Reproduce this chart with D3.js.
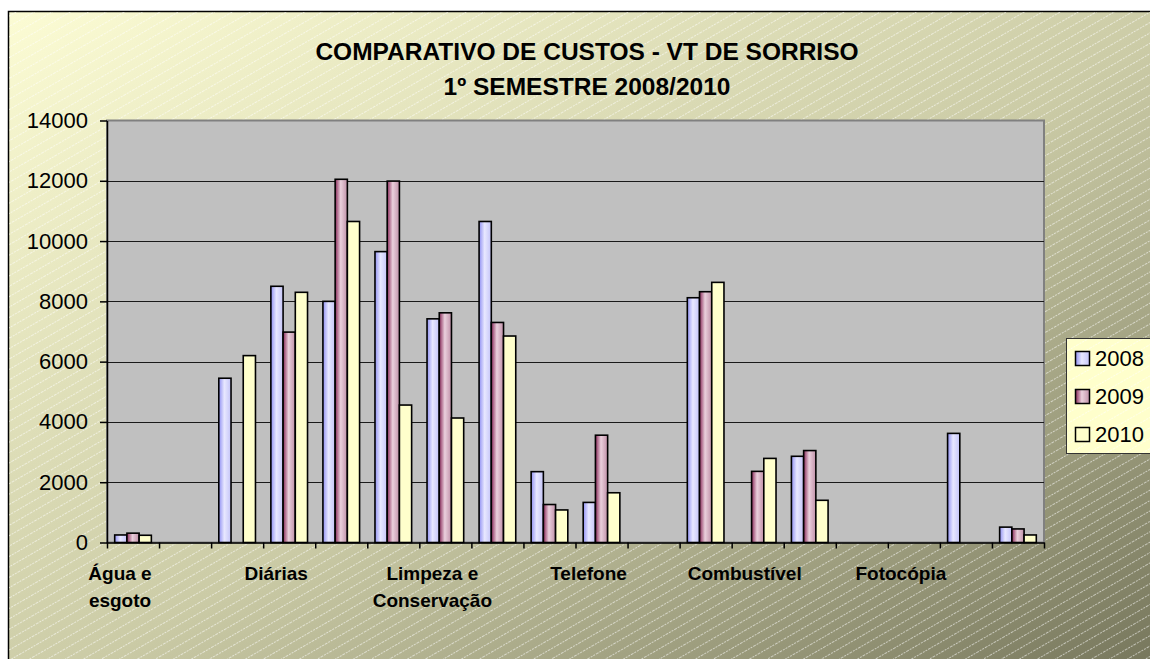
<!DOCTYPE html>
<html>
<head>
<meta charset="utf-8">
<script src="https://cdn.jsdelivr.net/npm/d3@7/dist/d3.min.js"></script>
<style>
body { margin: 0; background: #fff; }
text { font-family: "Liberation Sans", Arial, sans-serif; fill: #000; }
</style>
</head>
<body>
<div id="chart"></div>
<script>
"use strict";

// 18 categories, Excel only printed every third name
const categories = [
    "Água e\nesgoto", "", "", "Diárias", "", "", "Limpeza e\nConservação", "", "",
    "Telefone", "", "", "Combustível", "", "", "Fotocópia", "", "",
];
const years = ["2008", "2009", "2010"];
const values2008 = [250, 0, 5450, 8500, 8000, 9650, 7420, 10650, 2350, 1330, 0, 8120, 0, 2860, 0, 0, 3620, 510];
const values2009 = [310, 0, 0, 6980, 12050, 11990, 7620, 7300, 1260, 3560, 0, 8320, 2360, 3050, 0, 0, 0, 450];
const values2010 = [240, 0, 6200, 8300, 10650, 4560, 4130, 6850, 1080, 1650, 0, 8630, 2790, 1400, 0, 0, 0, 250];
const yticks = [0, 2000, 4000, 6000, 8000, 10000, 12000, 14000];
const title = ["COMPARATIVO DE CUSTOS - VT DE SORRISO", "1º SEMESTRE 2008/2010"];

const series = [values2008, values2009, values2010];

const WIDTH = 1150;
const HEIGHT = 659;
const LEFT = 107;
const RIGHT = 1044;
const TOP = 120.5;
const BOTTOM = 542.5;

let svg = d3.select("#chart").append("svg")
    .attr("width", WIDTH)
    .attr("height", HEIGHT);

let defs = svg.append("defs");

let bg = defs.append("linearGradient")
    .attr("id", "bg")
    .attr("x1", 0).attr("y1", 0).attr("x2", 1).attr("y2", 1);
bg.append("stop").attr("offset", 0).attr("stop-color", "#fcfcd4");
bg.append("stop").attr("offset", 0.5).attr("stop-color", "#cbcba6");
bg.append("stop").attr("offset", 1).attr("stop-color", "#6c6c53");

let hatch = defs.append("pattern")
    .attr("id", "hatch")
    .attr("patternUnits", "userSpaceOnUse")
    .attr("width", 10)
    .attr("height", 9)
    .attr("patternTransform", "rotate(-30)");
hatch.append("line")
    .attr("x1", 0).attr("y1", 0.5).attr("x2", 10).attr("y2", 0.5)
    .attr("stroke", "#ffffff")
    .attr("stroke-opacity", 0.6)
    .attr("stroke-width", 0.9)
    .attr("stroke-dasharray", "2,1");

// bar shading: dark edge on the left, light stripe, mid tone on the right
const shades = {
    "2008": ["#9090f2", "#e8e8ff", "#c4c4f8"],
    "2009": ["#882858", "#ead0dc", "#c090a8"],
    "2010": ["#ffffcc", "#ffffcc", "#ffffcc"],
};
years.forEach(y => {
    let g = defs.append("linearGradient")
        .attr("id", `bar${y}`)
        .attr("x1", 0).attr("y1", 0).attr("x2", 1).attr("y2", 0);
    g.append("stop").attr("offset", 0).attr("stop-color", shades[y][0]);
    g.append("stop").attr("offset", 0.45).attr("stop-color", shades[y][1]);
    g.append("stop").attr("offset", 1).attr("stop-color", shades[y][2]);
});

// chart area
svg.append("rect")
    .attr("x", 8.5).attr("y", 11.5)
    .attr("width", 1200).attr("height", 700)
    .attr("fill", "url(#bg)")
    .attr("stroke", "#000")
    .attr("stroke-width", 1.5);
svg.append("rect")
    .attr("x", 9).attr("y", 12)
    .attr("width", 1200).attr("height", 700)
    .attr("fill", "url(#hatch)");

svg.append("g")
    .selectAll("text")
    .data(title)
    .join("text")
    .attr("x", 587)
    .attr("y", (d, i) => 60 + i * 35)
    .attr("text-anchor", "middle")
    .attr("font-size", 24.5)
    .attr("font-weight", "bold")
    .text(d => d);

let x0 = d3.scaleBand()
    .domain(d3.range(categories.length))
    .range([LEFT, RIGHT]);

let x1 = d3.scaleBand()
    .domain(years)
    .range([0, x0.bandwidth()])
    .paddingOuter(0.63);

let xedge = d3.scaleLinear()
    .domain([0, categories.length])
    .range([LEFT, RIGHT]);

let y = d3.scaleLinear()
    .domain([0, 14000])
    .range([BOTTOM, TOP]);

// plot area
svg.append("rect")
    .attr("x", LEFT).attr("y", TOP)
    .attr("width", RIGHT - LEFT).attr("height", BOTTOM - TOP)
    .attr("fill", "#c0c0c0")
    .attr("stroke", "#808080")
    .attr("stroke-width", 2);

svg.append("g")
    .selectAll("line")
    .data(yticks.filter(v => v > 0 && v < 14000))
    .join("line")
    .attr("x1", LEFT).attr("x2", RIGHT)
    .attr("y1", d => Math.round(y(d)) + 0.5)
    .attr("y2", d => Math.round(y(d)) + 0.5)
    .attr("stroke", "#1a1a1a")
    .attr("stroke-width", 1.2);

let table = categories.map((c, i) => ({
    i: i,
    bars: years.map((yr, k) => ({ year: yr, value: series[k][i] })),
}));

svg.append("g")
    .selectAll("g")
    .data(table)
    .join("g")
    .attr("transform", d => `translate(${x0(d.i)},0)`)
    .selectAll("rect")
    .data(d => d.bars.filter(b => b.value > 0))
    .join("rect")
    .attr("x", d => x1(d.year))
    .attr("y", d => y(d.value))
    .attr("width", x1.bandwidth())
    .attr("height", d => BOTTOM - y(d.value))
    .attr("fill", d => `url(#bar${d.year})`)
    .attr("stroke", "#000")
    .attr("stroke-width", 1.6);

let yaxis = svg.append("g")
    .attr("transform", `translate(${LEFT},0)`)
    .call(d3.axisLeft(y)
        .tickValues(yticks)
        .tickFormat(d3.format("d"))
        .tickSize(7)
        .tickSizeOuter(0)
        .tickPadding(12));
yaxis.selectAll("text").attr("font-size", 22).attr("font-family", "Liberation Sans, Arial, sans-serif");
yaxis.selectAll("line,path").attr("stroke", "#000").attr("stroke-width", 1.5);

let xaxis = svg.append("g")
    .attr("transform", `translate(0,${BOTTOM})`)
    .call(d3.axisBottom(xedge)
        .tickValues(d3.range(categories.length + 1))
        .tickFormat("")
        .tickSize(6)
        .tickSizeOuter(0));
xaxis.selectAll("line,path").attr("stroke", "#000").attr("stroke-width", 1.5);

// category names, wrapped like in the original
let labels = svg.append("g")
    .selectAll("text")
    .data(table.filter(d => categories[d.i] !== ""))
    .join("text")
    .attr("x", d => x0(d.i) + x0.bandwidth() / 2 - 13)
    .attr("y", 580)
    .attr("text-anchor", "middle")
    .attr("font-size", 19)
    .attr("font-weight", "bold");
labels.selectAll("tspan")
    .data(d => categories[d.i].split("\n"))
    .join("tspan")
    .attr("x", function() { return this.parentNode.getAttribute("x"); })
    .attr("dy", (d, i) => i === 0 ? 0 : 27)
    .text(d => d);

// legend
let legend = svg.append("g");
legend.append("rect")
    .attr("x", 1066.5).attr("y", 338.5)
    .attr("width", 100).attr("height", 115)
    .attr("fill", "#ffffcc")
    .attr("stroke", "#333")
    .attr("stroke-width", 1);
legend.append("rect")
    .attr("x", 1067).attr("y", 339)
    .attr("width", 99).attr("height", 114)
    .attr("fill", "url(#hatch)");

let items = legend.selectAll("g.item")
    .data(years)
    .join("g")
    .attr("class", "item")
    .attr("transform", (d, i) => `translate(0,${366 + i * 38})`);
items.append("rect")
    .attr("x", 1075.5).attr("y", -14.5)
    .attr("width", 14).attr("height", 14)
    .attr("fill", d => `url(#bar${d})`)
    .attr("stroke", "#000")
    .attr("stroke-width", 1.5);
items.append("text")
    .attr("x", 1095)
    .attr("y", 0)
    .attr("font-size", 22)
    .text(d => d);
</script>
</body>
</html>
